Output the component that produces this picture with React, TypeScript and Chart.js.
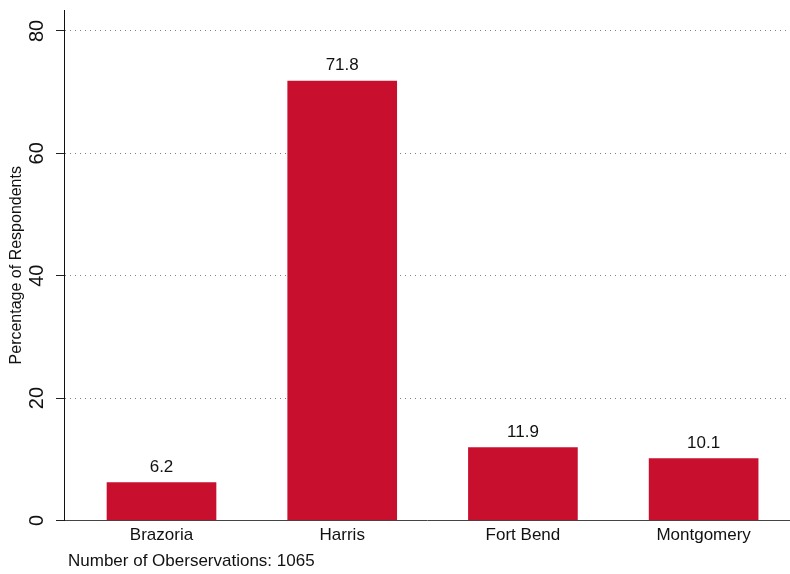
import React, { useEffect, useRef } from "react";
import { Chart, registerables } from "chart.js";

Chart.register(...registerables);

const categories = ["Brazoria", "Harris", "Fort Bend", "Montgomery"];
const percentages = [6.2, 71.8, 11.9, 10.1];
const yTickValues = [0, 20, 40, 60, 80];
const yAxisTitle = "Percentage of Respondents";
const footnote = "Number of Oberservations: 1065";

const FONT = "'Liberation Sans', Arial, Helvetica, sans-serif";
const BAR_COLOR = "#C8102E";
const TEXT_COLOR = "#111111";

const valueLabelPlugin = {
  id: "valueLabels",
  afterDatasetsDraw(chart: any) {
    const ctx = chart.ctx;
    const meta = chart.getDatasetMeta(0);
    ctx.save();
    ctx.font = `17px ${FONT}`;
    ctx.fillStyle = TEXT_COLOR;
    ctx.textAlign = "center";
    ctx.textBaseline = "alphabetic";
    meta.data.forEach((bar: any, i: number) => {
      ctx.fillText(percentages[i].toFixed(1), bar.x, bar.y - 11);
    });
    ctx.restore();
  },
};

const footnotePlugin = {
  id: "footnote",
  afterDraw(chart: any) {
    const ctx = chart.ctx;
    ctx.save();
    ctx.font = `17px ${FONT}`;
    ctx.fillStyle = TEXT_COLOR;
    ctx.textAlign = "left";
    ctx.textBaseline = "alphabetic";
    ctx.fillText(footnote, chart.chartArea.left + 4, 566);
    ctx.restore();
  },
};

export default function App() {
  const canvasRef = useRef<HTMLCanvasElement | null>(null);

  useEffect(() => {
    if (!canvasRef.current) return;
    const chart = new Chart(canvasRef.current, {
      type: "bar",
      data: {
        datasets: [
          {
            data: categories.map((c, i) => ({ x: i + 1, y: percentages[i] })),
            backgroundColor: BAR_COLOR,
            borderWidth: 0,
            barThickness: 109,
          },
        ],
      },
      options: {
        responsive: false,
        animation: false,
        devicePixelRatio: 1,
        layout: { padding: { top: 10, right: 0, left: 0, bottom: 0 } },
        plugins: {
          legend: { display: false },
          tooltip: { enabled: false },
        },
        scales: {
          x: {
            type: "linear",
            min: 0.4604,
            max: 4.478,
            offset: false,
            grid: { display: false, drawTicks: false },
            border: { display: true, color: "#444444", width: 1 },
            afterBuildTicks: (scale: any) => {
              scale.ticks = categories.map((_, i) => ({ value: i + 1 }));
            },
            afterFit: (scale: any) => {
              scale.height = 53.5;
              scale.paddingLeft = 0;
              scale.paddingRight = 0;
            },
            ticks: {
              autoSkip: false,
              maxRotation: 0,
              minRotation: 0,
              padding: 5,
              color: TEXT_COLOR,
              font: { family: FONT, size: 17 },
              callback: (v: any) => categories[Math.round(Number(v)) - 1] ?? "",
            },
          },
          y: {
            type: "linear",
            min: 0,
            max: 83.43,
            afterBuildTicks: (scale: any) => {
              scale.ticks = yTickValues.map((v) => ({ value: v }));
            },
            afterFit: (scale: any) => {
              scale.width = 64;
              scale.paddingTop = 0;
              scale.paddingBottom = 0;
            },
            grid: {
              color: (ctx: any) => (ctx.tick && ctx.tick.value === 0 ? "#333333" : "#808080"),
              lineWidth: 1,
              drawTicks: true,
              tickLength: 8,
              tickColor: "#222222",
              tickWidth: 1,
              tickBorderDash: [],
            },
            border: { display: true, color: "#111111", width: 1, dash: [1, 4] },
            ticks: {
              minRotation: 90,
              maxRotation: 90,
              crossAlign: "center",
              padding: 7,
              color: TEXT_COLOR,
              font: { family: FONT, size: 20 },
              callback: (v: any) => String(v),
            },
            title: {
              display: true,
              text: yAxisTitle,
              color: TEXT_COLOR,
              font: { family: FONT, size: 16 },
              padding: { top: 7, bottom: 0 },
            },
          },
        },
      },
      plugins: [valueLabelPlugin, footnotePlugin],
    } as any);
    return () => chart.destroy();
  }, []);

  return (
    <div style={{ position: "absolute", left: 0, top: 0, width: 790, height: 574, background: "#ffffff" }}>
      <canvas ref={canvasRef} width={790} height={574} style={{ width: 790, height: 574, display: "block" }} />
    </div>
  );
}
